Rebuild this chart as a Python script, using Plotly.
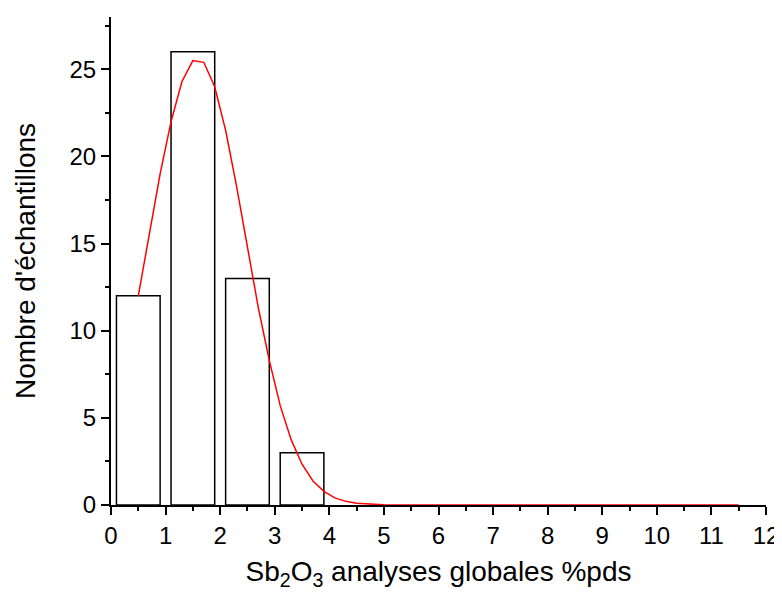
import plotly.graph_objects as go

# histogram bins (centres) and counts
bin_centres = [0.5, 1.5, 2.5, 3.5]
counts = [12, 26, 13, 3]

# fitted gaussian
fit_x = [0.5, 0.7, 0.9, 1.1, 1.3, 1.5, 1.7, 1.9, 2.1, 2.3, 2.5, 2.7, 2.9,
         3.1, 3.3, 3.5, 3.7, 3.9, 4.1, 4.3, 4.5, 4.7, 5.0, 5.5, 6.0, 7.0,
         8.0, 9.0, 10.0, 11.0, 11.5]
fit_y = [12.0, 15.5, 19.0, 22.0, 24.3, 25.5, 25.4, 24.0, 21.5, 18.3, 14.8,
         11.3, 8.3, 5.7, 3.75, 2.34, 1.38, 0.78, 0.41, 0.21, 0.10, 0.05,
         0.01, 0.0, 0.0, 0.0, 0.0, 0.0, 0.0, 0.0, 0.0]

x_ticks = list(range(0, 13))
y_ticks = [0, 5, 10, 15, 20, 25]

fig = go.Figure()

fig.add_trace(go.Bar(
    x=bin_centres, y=counts, width=0.8,
    marker=dict(color="white", line=dict(color="black", width=1.5)),
    showlegend=False,
))

fig.add_trace(go.Scatter(
    x=fit_x, y=fit_y, mode="lines",
    line=dict(color="red", width=1.5),
    showlegend=False,
))

tick_font = dict(family="Arial, Liberation Sans", size=24, color="black")

# page body has an 8px margin, so the figure is a little smaller than the window
fig.update_layout(
    width=774, height=592,
    margin=dict(l=103, r=16, t=9, b=95, autoexpand=False),
    plot_bgcolor="white", paper_bgcolor="white",
    font=dict(family="Arial, Liberation Sans", size=24, color="black"),
    xaxis=dict(
        range=[0, 12], tickmode="array", tickvals=x_ticks,
        showline=True, linecolor="black", linewidth=2,
        ticks="outside", ticklen=8, tickwidth=2, tickcolor="black",
        minor=dict(tickvals=[v + 0.5 for v in x_ticks[:-1]], ticks="outside",
                   ticklen=4, tickwidth=2, tickcolor="black"),
        showgrid=False, zeroline=False, tickfont=tick_font,
        title=dict(text="Sb<sub>2</sub>O<sub>3</sub> analyses globales %pds",
                   font=dict(size=28), standoff=14),
    ),
    yaxis=dict(
        range=[0, 28], tickmode="array", tickvals=y_ticks,
        showline=True, linecolor="black", linewidth=2,
        ticks="outside", ticklen=8, tickwidth=2, tickcolor="black",
        minor=dict(tickvals=[v + 2.5 for v in y_ticks], ticks="outside",
                   ticklen=4, tickwidth=2, tickcolor="black"),
        showgrid=False, zeroline=False, tickfont=tick_font,
        title=dict(text="Nombre d'échantillons", font=dict(size=28), standoff=26),
    ),
)

fig.write_html("out.html")
